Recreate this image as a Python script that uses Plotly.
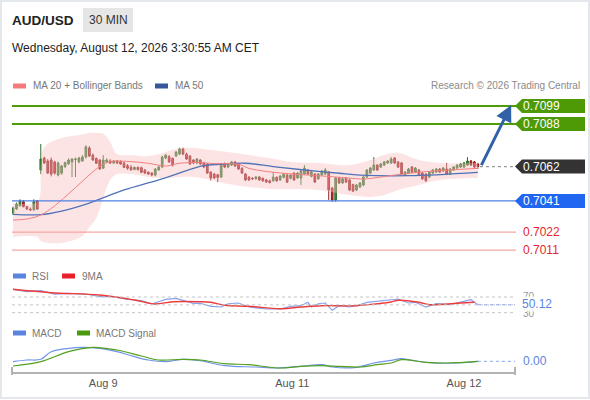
import plotly.graph_objects as go

W, H = 590, 400

# candles, 30 min bars
opens = [0.70336, 0.70361, 0.70380, 0.70405, 0.70375, 0.70360, 0.70355, 0.70410,
         0.70599, 0.70672, 0.70654, 0.70660, 0.70648, 0.70568, 0.70580, 0.70620, 0.70636, 0.70648, 0.70662, 0.70648,
         0.70654, 0.70678, 0.70733, 0.70690, 0.70670, 0.70660, 0.70610, 0.70648, 0.70654, 0.70642,
         0.70654, 0.70650, 0.70642, 0.70625, 0.70615, 0.70602, 0.70615, 0.70613, 0.70599, 0.70586,
         0.70580, 0.70568, 0.70599, 0.70617, 0.70672, 0.70680, 0.70670, 0.70684, 0.70696, 0.70727,
         0.70696, 0.70684, 0.70660, 0.70642, 0.70660, 0.70642, 0.70636, 0.70586, 0.70574, 0.70570,
         0.70556, 0.70636, 0.70617, 0.70629, 0.70648, 0.70636, 0.70610, 0.70575, 0.70556, 0.70548,
         0.70545, 0.70556, 0.70548, 0.70538, 0.70533, 0.70533, 0.70554, 0.70538, 0.70554, 0.70568,
         0.70548, 0.70580, 0.70550, 0.70550, 0.70574, 0.70599, 0.70560, 0.70574, 0.70545, 0.70568,
         0.70574, 0.70586, 0.70489, 0.70416, 0.70550, 0.70520, 0.70550, 0.70538, 0.70510, 0.70477,
         0.70495, 0.70507, 0.70556, 0.70580, 0.70599, 0.70629, 0.70617, 0.70629, 0.70642, 0.70642,
         0.70672, 0.70648, 0.70642, 0.70568, 0.70580, 0.70617, 0.70586, 0.70599, 0.70580, 0.70574,
         0.70556, 0.70580, 0.70586, 0.70605, 0.70593, 0.70605, 0.70574, 0.70599, 0.70611, 0.70617,
         0.70617, 0.70629, 0.70654, 0.70648, 0.70636]
highs = [0.70375, 0.70400, 0.70420, 0.70415, 0.70380, 0.70370, 0.70420, 0.70415,
         0.70758, 0.70680, 0.70665, 0.70675, 0.70655, 0.70650, 0.70630, 0.70650, 0.70670, 0.70670, 0.70675, 0.70680,
         0.70690, 0.70750, 0.70745, 0.70700, 0.70675, 0.70665, 0.70690, 0.70670, 0.70665, 0.70660,
         0.70660, 0.70658, 0.70650, 0.70635, 0.70629, 0.70620, 0.70620, 0.70620, 0.70605, 0.70590,
         0.70585, 0.70610, 0.70623, 0.70685, 0.70695, 0.70690, 0.70675, 0.70715, 0.70735, 0.70735,
         0.70705, 0.70690, 0.70665, 0.70672, 0.70665, 0.70648, 0.70640, 0.70590, 0.70580, 0.70575,
         0.70642, 0.70645, 0.70642, 0.70654, 0.70654, 0.70642, 0.70615, 0.70580, 0.70560, 0.70556,
         0.70562, 0.70562, 0.70554, 0.70545, 0.70540, 0.70586, 0.70560, 0.70568, 0.70580, 0.70574,
         0.70574, 0.70586, 0.70586, 0.70599, 0.70629, 0.70605, 0.70593, 0.70580, 0.70580, 0.70599,
         0.70611, 0.70593, 0.70495, 0.70556, 0.70556, 0.70550, 0.70556, 0.70545, 0.70515, 0.70514,
         0.70525, 0.70562, 0.70605, 0.70617, 0.70678, 0.70635, 0.70642, 0.70654, 0.70660, 0.70678,
         0.70678, 0.70654, 0.70648, 0.70593, 0.70611, 0.70623, 0.70617, 0.70605, 0.70586, 0.70580,
         0.70593, 0.70605, 0.70611, 0.70611, 0.70617, 0.70642, 0.70611, 0.70623, 0.70635, 0.70642,
         0.70648, 0.70678, 0.70660, 0.70654, 0.70642]
lows = [0.70325, 0.70355, 0.70375, 0.70370, 0.70355, 0.70350, 0.70350, 0.70355,
        0.70574, 0.70635, 0.70575, 0.70560, 0.70570, 0.70560, 0.70570, 0.70610, 0.70630, 0.70556, 0.70556, 0.70640,
        0.70650, 0.70670, 0.70678, 0.70655, 0.70635, 0.70600, 0.70605, 0.70640, 0.70635, 0.70635,
        0.70635, 0.70630, 0.70610, 0.70600, 0.70595, 0.70598, 0.70595, 0.70580, 0.70575, 0.70570,
        0.70560, 0.70560, 0.70595, 0.70610, 0.70665, 0.70642, 0.70620, 0.70680, 0.70690, 0.70690,
        0.70660, 0.70630, 0.70635, 0.70635, 0.70630, 0.70610, 0.70575, 0.70535, 0.70545, 0.70525,
        0.70550, 0.70610, 0.70610, 0.70623, 0.70617, 0.70600, 0.70575, 0.70533, 0.70533, 0.70538,
        0.70540, 0.70533, 0.70527, 0.70520, 0.70517, 0.70527, 0.70527, 0.70533, 0.70548, 0.70520,
        0.70542, 0.70533, 0.70545, 0.70507, 0.70570, 0.70570, 0.70554, 0.70520, 0.70540, 0.70562,
        0.70570, 0.70416, 0.70405, 0.70405, 0.70514, 0.70514, 0.70520, 0.70470, 0.70465, 0.70470,
        0.70490, 0.70500, 0.70550, 0.70574, 0.70593, 0.70593, 0.70611, 0.70623, 0.70636, 0.70636,
        0.70636, 0.70611, 0.70568, 0.70562, 0.70574, 0.70580, 0.70580, 0.70562, 0.70538, 0.70527,
        0.70550, 0.70574, 0.70580, 0.70580, 0.70586, 0.70568, 0.70568, 0.70593, 0.70605, 0.70611,
        0.70611, 0.70623, 0.70623, 0.70611, 0.70605]
closes = [0.70366, 0.70391, 0.70410, 0.70375, 0.70360, 0.70355, 0.70405, 0.70360,
          0.70666, 0.70642, 0.70580, 0.70574, 0.70580, 0.70642, 0.70623, 0.70644, 0.70660, 0.70666, 0.70666, 0.70672,
          0.70678, 0.70740, 0.70684, 0.70660, 0.70640, 0.70605, 0.70660, 0.70660, 0.70642, 0.70654,
          0.70642, 0.70635, 0.70615, 0.70610, 0.70600, 0.70615, 0.70602, 0.70585, 0.70580, 0.70574,
          0.70568, 0.70605, 0.70617, 0.70678, 0.70690, 0.70648, 0.70629, 0.70708, 0.70727, 0.70696,
          0.70666, 0.70636, 0.70642, 0.70666, 0.70636, 0.70617, 0.70580, 0.70550, 0.70550, 0.70554,
          0.70636, 0.70617, 0.70636, 0.70648, 0.70623, 0.70605, 0.70580, 0.70538, 0.70538, 0.70545,
          0.70556, 0.70538, 0.70533, 0.70525, 0.70522, 0.70556, 0.70533, 0.70562, 0.70574, 0.70525,
          0.70568, 0.70538, 0.70580, 0.70593, 0.70611, 0.70574, 0.70586, 0.70525, 0.70574, 0.70593,
          0.70599, 0.70477, 0.70416, 0.70550, 0.70520, 0.70545, 0.70525, 0.70477, 0.70470, 0.70507,
          0.70520, 0.70556, 0.70599, 0.70611, 0.70629, 0.70599, 0.70636, 0.70648, 0.70654, 0.70666,
          0.70642, 0.70617, 0.70574, 0.70586, 0.70605, 0.70586, 0.70611, 0.70568, 0.70545, 0.70533,
          0.70586, 0.70599, 0.70605, 0.70586, 0.70611, 0.70574, 0.70605, 0.70617, 0.70629, 0.70636,
          0.70642, 0.70654, 0.70629, 0.70617, 0.70620]
bars = list(range(len(closes)))

# moving averages + bollinger envelope (sampled at bar positions)
ma20_idx = [0, 8, 25, 28, 34, 39, 44, 48, 54, 58, 65, 68, 75, 85, 92, 98, 101, 110, 119, 134]
ma20_val = [0.70293, 0.70324, 0.70620, 0.70650, 0.70650, 0.70640, 0.70623, 0.70640, 0.70644, 0.70638,
            0.70634, 0.70609, 0.70585, 0.70568, 0.70558, 0.70548, 0.70544, 0.70568, 0.70589, 0.70609]
ma50_idx = [0, 8, 14, 22, 32, 42, 52, 55, 61, 67, 75, 84, 94, 100, 114, 134]
ma50_val = [0.70328, 0.70326, 0.70348, 0.70397, 0.70477, 0.70538, 0.70609, 0.70625, 0.70636, 0.70640,
            0.70620, 0.70599, 0.70579, 0.70568, 0.70564, 0.70585]
band_idx = [0, 7, 8, 9, 14, 20, 22, 24, 26, 28, 30, 34, 39, 44, 48, 52, 57, 62, 68, 74,
            80, 88, 97, 103, 107, 111, 117, 123, 134]
band_up = [0.70397, 0.70405, 0.70620, 0.70740, 0.70794, 0.70815, 0.70825, 0.70825, 0.70820, 0.70770,
           0.70695, 0.70691, 0.70684, 0.70709, 0.70733, 0.70733, 0.70721, 0.70709, 0.70691, 0.70672,
           0.70648, 0.70642, 0.70629, 0.70660, 0.70691, 0.70703, 0.70660, 0.70642, 0.70642]
band_dn = [0.70190, 0.70190, 0.70165, 0.70158, 0.70153, 0.70196, 0.70250, 0.70306, 0.70428, 0.70538,
           0.70574, 0.70574, 0.70556, 0.70550, 0.70556, 0.70556, 0.70538, 0.70513, 0.70495, 0.70483,
           0.70483, 0.70477, 0.70446, 0.70434, 0.70446, 0.70477, 0.70507, 0.70538, 0.70550]

# RSI panel
rsi_idx = [0, 4, 8, 12, 16, 21, 25, 29, 33, 37, 40, 42, 44, 47, 49, 52, 54, 57, 60, 62,
           65, 68, 73, 77, 80, 83, 85, 86, 88, 90, 92, 94, 97, 99, 102, 105, 109, 111, 114, 116,
           119, 122, 126, 129, 132, 134]
rsi_val = [89.6, 83.5, 86.1, 77.6, 79.4, 77.6, 70.8, 70.8, 64.1, 60.6, 52.2, 58, 64.1, 66.7, 62.4, 54, 54, 46.3, 44.5, 52.9,
           54.7, 44.5, 39.4, 39.4, 46.3, 47.8, 56.5, 44.5, 52.9, 54.7, 36.1, 47.8, 44.5, 47.8, 56.5, 59, 61.6, 64.9, 54.7, 56.5,
           44.5, 52.9, 50.4, 56.5, 63.1, 50.12]
ma9_idx = [0, 11, 25, 35, 41, 46, 54, 57, 61, 68, 77, 83, 89, 99, 105, 109, 111, 117, 120, 129, 133]
ma9_val = [89.6, 81, 75.1, 62.4, 52.2, 58, 58, 56.5, 48.9, 46.3, 40.2, 44.5, 47.8, 47.8, 52.9, 57.3, 61.6, 56.5, 50.4, 54.7, 56.5]

# MACD panel
macd_idx = [0, 4, 8, 11, 16, 20, 25, 30, 35, 39, 44, 49, 54, 61, 70, 76, 83, 89, 92, 99,
            104, 109, 112, 115, 121, 127, 134]
macd_val = [-0.000004, 0.000013, 0.000020, 0.000096, 0.000130, 0.000140, 0.000130, 0.000096, 0.000046, 0.000013,
            -0.000004, 0.000020, 0.000006, -0.000044, -0.000057, -0.000067, -0.000050, -0.000034, -0.000057, -0.000060,
            -0.000017, 0.000010, 0.000026, 0.000010, -0.000017, -0.000017, 0.0]
sig_idx = [0, 8, 16, 23, 30, 37, 42, 49, 54, 61, 68, 77, 83, 89, 94, 100, 105, 109, 112, 119, 125, 134]
sig_val = [-0.000047, -0.000004, 0.000096, 0.000140, 0.000113, 0.000053, 0.000013, 0.000020, 0.000013, -0.000024,
           -0.000034, -0.000067, -0.000050, -0.000044, -0.000050, -0.000057, -0.000034, -0.000017, 0.000016, -0.000010,
           -0.000017, 0.0]

# key levels
resist = [0.7099, 0.7088]
last_price = 0.7062
support_main = 0.7041
support_low = [0.7022, 0.7011]
rsi_guides = [70, 50, 30]
tick_pos = [26, 80.5, 130]
tick_txt = ["Aug 9", "Aug 11", "Aug 12"]

FONT = "Liberation Sans, Arial, sans-serif"
X_RANGE = [-0.3, 144.7]
P_RANGE = [0.70037, 0.71057]
P_PX = (95, 262)


def fx(px):
    return px / W


def fy(py):
    return 1 - py / H


fig = go.Figure()

fig.add_trace(go.Scatter(x=band_idx, y=band_up, mode="lines", line=dict(width=0, shape="spline"),
                         hoverinfo="skip", yaxis="y"))
fig.add_trace(go.Scatter(x=band_idx, y=band_dn, mode="lines", line=dict(width=0, shape="spline"),
                         fill="tonexty", fillcolor="rgba(250,190,190,0.42)", hoverinfo="skip", yaxis="y"))
fig.add_trace(go.Scatter(x=ma50_idx, y=ma50_val, mode="lines",
                         line=dict(color="#5073b8", width=1.3, shape="spline"), yaxis="y"))
fig.add_trace(go.Scatter(x=ma20_idx, y=ma20_val, mode="lines",
                         line=dict(color="#f27f7f", width=1, shape="spline"), yaxis="y"))
fig.add_trace(go.Candlestick(
    x=bars, open=opens, high=highs, low=lows, close=closes,
    increasing=dict(line=dict(color="#2f6f2c", width=1), fillcolor="#3c8c37"),
    decreasing=dict(line=dict(color="#8c1d1d", width=1), fillcolor="#d8262b"),
    yaxis="y"))

fig.add_trace(go.Scatter(x=rsi_idx, y=rsi_val, mode="lines",
                         line=dict(color="#86a3ec", width=1.2), yaxis="y2"))
fig.add_trace(go.Scatter(x=ma9_idx, y=ma9_val, mode="lines",
                         line=dict(color="#ee3b3b", width=1.4, shape="spline"), yaxis="y2"))
fig.add_trace(go.Scatter(x=macd_idx, y=macd_val, mode="lines",
                         line=dict(color="#7294e8", width=1.2, shape="spline"), yaxis="y3"))
fig.add_trace(go.Scatter(x=sig_idx, y=sig_val, mode="lines",
                         line=dict(color="#52a01e", width=1.2, shape="spline"), yaxis="y3"))

shapes = []
ann = []

# card border
shapes.append(dict(type="rect", xref="paper", yref="paper", x0=fx(1), x1=fx(589), y0=fy(398), y1=fy(1),
                   line=dict(color="#e4e7eb", width=2), layer="below"))

# price level lines
for lv in resist:
    shapes.append(dict(type="line", xref="paper", yref="y", x0=fx(12), x1=fx(516), y0=lv, y1=lv,
                       line=dict(color="#4f9c08", width=2)))
shapes.append(dict(type="line", xref="paper", yref="y", x0=fx(12), x1=fx(516), y0=support_main, y1=support_main,
                   line=dict(color="#4c80e6", width=1.3)))
for lv in support_low:
    shapes.append(dict(type="line", xref="paper", yref="y", x0=fx(12), x1=fx(516), y0=lv, y1=lv,
                       line=dict(color="#f5a6a6", width=1.3)))
shapes.append(dict(type="line", xref="x", yref="y", x0=bars[-1] + 0.6, x1=X_RANGE[1], y0=last_price, y1=last_price,
                   line=dict(color="#999999", width=1.2, dash="dot")))

# price tags with a pointed left side
half = 7 * (P_RANGE[1] - P_RANGE[0]) / (P_PX[1] - P_PX[0])
tags = [(resist[0], "#4e9a06"), (resist[1], "#4e9a06"), (last_price, "#333333"), (support_main, "#2166f0")]
for lv, col in tags:
    path = (f"M {fx(515)} {lv} L {fx(522)} {lv + half} L {fx(585)} {lv + half} "
            f"L {fx(585)} {lv - half} L {fx(522)} {lv - half} Z")
    shapes.append(dict(type="path", xref="paper", yref="y", path=path, fillcolor=col, line=dict(width=0)))
    ann.append(dict(xref="paper", yref="y", x=fx(521), y=lv, text=f"{lv:.4f}", showarrow=False,
                    xanchor="left", yanchor="middle", font=dict(color="white", size=12)))
for lv in support_low:
    ann.append(dict(xref="paper", yref="y", x=fx(521), y=lv, text=f"{lv:.4f}", showarrow=False,
                    xanchor="left", yanchor="middle", font=dict(color="#e5262c", size=12)))

# target arrow
ann.append(dict(xref="x", yref="y", x=143.6, y=0.70996, axref="x", ayref="y", ax=bars[-1] + 0.8, ay=last_price,
                showarrow=True, arrowhead=2, arrowsize=1.1, arrowwidth=3, arrowcolor="#3162a8", text=""))

# RSI guides
for g in rsi_guides:
    shapes.append(dict(type="line", xref="x", yref="y2", x0=X_RANGE[0], x1=X_RANGE[1], y0=g, y1=g,
                       line=dict(color="#c4c4c4", width=1, dash="dot")))
shapes.append(dict(type="line", xref="x", yref="y2", x0=rsi_idx[-1], x1=X_RANGE[1], y0=rsi_val[-1], y1=rsi_val[-1],
                   line=dict(color="#86a3ec", width=1, dash="dot")))
shapes.append(dict(type="line", xref="x", yref="y3", x0=macd_idx[-1], x1=X_RANGE[1], y0=0, y1=0,
                   line=dict(color="#86a3ec", width=1, dash="dot")))
ann.append(dict(xref="paper", yref="y2", x=fx(521), y=71, text="70", showarrow=False, xanchor="left",
                yanchor="middle", font=dict(color="#999999", size=10)))
ann.append(dict(xref="paper", yref="y2", x=fx(521), y=29, text="30", showarrow=False, xanchor="left",
                yanchor="middle", font=dict(color="#999999", size=10)))
ann.append(dict(xref="paper", yref="y2", x=fx(521), y=rsi_val[-1] + 2, text=f"{rsi_val[-1]:.2f}", showarrow=False,
                xanchor="left", yanchor="middle", bgcolor="rgba(255,255,255,0.85)", borderpad=0,
                font=dict(color="#5b84e0", size=12)))
ann.append(dict(xref="paper", yref="y3", x=fx(521), y=0, text="0.00", showarrow=False,
                xanchor="left", yanchor="middle", font=dict(color="#5b84e0", size=12)))

# x axis end ticks
for xe in (12, 515):
    shapes.append(dict(type="line", xref="paper", yref="paper", x0=fx(xe), x1=fx(xe), y0=fy(375), y1=fy(367),
                       line=dict(color="#b3b3b3", width=2)))

# header
ann.append(dict(xref="paper", yref="paper", x=fx(10), y=fy(20), text="<b>AUD/USD</b>", showarrow=False,
                xanchor="left", yanchor="middle", font=dict(color="#222222", size=13.5)))
shapes.append(dict(type="rect", xref="paper", yref="paper", x0=fx(83), x1=fx(133), y0=fy(32), y1=fy(8),
                   fillcolor="#e6e6e6", line=dict(width=0)))
ann.append(dict(xref="paper", yref="paper", x=fx(108), y=fy(20), text="30 MIN", showarrow=False,
                xanchor="center", yanchor="middle", font=dict(color="#333333", size=12)))
ann.append(dict(xref="paper", yref="paper", x=fx(10), y=fy(48), text="Wednesday, August 12, 2026 3:30:55 AM CET",
                showarrow=False, xanchor="left", yanchor="middle", font=dict(color="#222222", size=12)))
ann.append(dict(xref="paper", yref="paper", x=fx(582), y=fy(86), text="Research © 2026 Trading Central",
                showarrow=False, xanchor="right", yanchor="middle", font=dict(color="#8a8a8a", size=10)))

# legends
legends = [
    (86, 13, "#f47b7b", 31, "MA 20 + Bollinger Bands"),
    (86, 155, "#34589a", 173, "MA 50"),
    (276, 13, "#5b84e0", 30, "RSI"),
    (276, 62, "#e8202a", 80, "9MA"),
    (333, 13, "#5b84e0", 30, "MACD"),
    (333, 77, "#4a9a10", 94, "MACD Signal"),
]
for yy, sx, col, tx, label in legends:
    shapes.append(dict(type="rect", xref="paper", yref="paper", x0=fx(sx), x1=fx(sx + 13), y0=fy(yy + 2.5),
                       y1=fy(yy - 2.5), fillcolor=col, line=dict(width=0)))
    ann.append(dict(xref="paper", yref="paper", x=fx(tx), y=fy(yy), text=label, showarrow=False,
                    xanchor="left", yanchor="middle", font=dict(color="#777777", size=10)))

fig.update_layout(
    width=W, height=H, autosize=False,
    margin=dict(l=0, r=0, t=0, b=0),
    paper_bgcolor="white", plot_bgcolor="white",
    font=dict(family=FONT),
    showlegend=False,
    shapes=shapes, annotations=ann,
    xaxis=dict(domain=[fx(12), fx(515)], range=X_RANGE, anchor="free", position=fy(373),
               showline=True, linecolor="#b3b3b3", linewidth=2, showgrid=False, zeroline=False,
               ticks="", tickvals=tick_pos, ticktext=tick_txt, tickfont=dict(size=11, color="#555555"),
               rangeslider=dict(visible=False), fixedrange=True),
    yaxis=dict(domain=[fy(P_PX[1]), fy(P_PX[0])], range=P_RANGE, visible=False, anchor="x"),
    yaxis2=dict(domain=[fy(316), fy(285)], range=[21.6, 100.6], visible=False, anchor="x"),
    yaxis3=dict(domain=[fy(371), fy(340)], range=[-0.000097, 0.000213], visible=False, anchor="x"),
)

# the page body has a default 8px margin; drop it so the figure sits at 0,0
fig.write_html("out.html", config={"displayModeBar": False},
               post_script="document.body.style.margin='0';")
